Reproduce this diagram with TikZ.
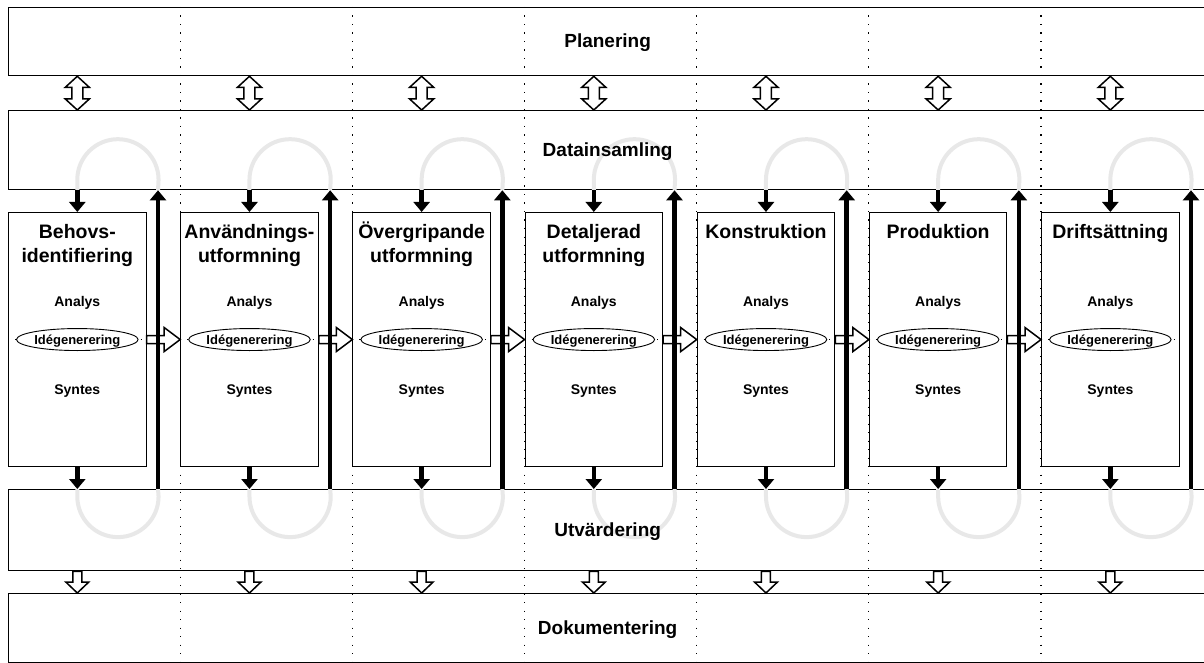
\documentclass[tikz,border=0pt]{standalone}
\usepackage{fontspec}
\setmainfont{Liberation Sans}
\usetikzlibrary{arrows.meta,shapes.geometric,calc}
\begin{document}
\begin{tikzpicture}[x=1pt,y=-1pt,
  band/.style={draw=black, line width=1.3pt, anchor=north west, inner sep=0pt, minimum width=1198pt},
  bandlabel/.style={inner sep=0pt, font=\fontsize{19}{23}\selectfont\bfseries, text height=13.6pt, text depth=1.5pt},
  stagebox/.style={draw=black, line width=1.1pt, fill=white, anchor=north west, inner sep=0pt,
    minimum width=137.5pt, minimum height=254pt},
  stagetitle/.style={anchor=base, align=center, inner sep=0pt, font=\fontsize{19.5}{24}\selectfont\bfseries},
  phase/.style={anchor=base, inner sep=0pt, font=\fontsize{14}{16}\selectfont\bfseries},
  idea/.style={ellipse, draw=black, line width=0.9pt, fill=white, minimum width=111pt, minimum height=22pt,
    inner sep=0pt, font=\fontsize{13}{15}\selectfont\bfseries, text height=9.3pt, text depth=0pt},
  griddots/.style={line width=1.2pt, dash pattern=on 1.2pt off 7.3pt},
  rowdots/.style={line width=1.2pt, dash pattern=on 1.2pt off 11.35pt},
  feedback/.style={draw=black!9, line width=4pt},
  flow/.style={line width=4.5pt, -{Triangle[width=16pt,length=10pt]}},
  hollow/.style={draw=black, fill=white, line width=1.5pt, line join=miter},
  hright/.style={hollow, to path={let \p1=(\tikztostart), \p2=(\tikztotarget) in
    (\x1,{\y1+4pt}) -- ({\x2-16pt},{\y1+4pt}) -- ({\x2-16pt},{\y1+12pt}) -- (\x2,\y1)
    -- ({\x2-16pt},{\y1-12pt}) -- ({\x2-16pt},{\y1-4pt}) -- (\x1,{\y1-4pt}) -- cycle}},
  hdown/.style={hollow, to path={let \p1=(\tikztostart), \p2=(\tikztotarget) in
    ({\x1-4.5pt},\y1) -- ({\x1-4.5pt},{\y2+11pt}) -- ({\x1-11.5pt},{\y2+11pt}) -- (\x1,\y2)
    -- ({\x1+11.5pt},{\y2+11pt}) -- ({\x1+4.5pt},{\y2+11pt}) -- ({\x1+4.5pt},\y1) -- cycle}},
  hboth/.style={hollow, to path={let \p1=(\tikztostart), \p2=(\tikztotarget) in
    (\x1,\y1) -- ({\x1+12pt},{\y1-11pt}) -- ({\x1+5.5pt},{\y1-11pt}) -- ({\x1+5.5pt},{\y2+11pt})
    -- ({\x1+12pt},{\y2+11pt}) -- (\x1,\y2) -- ({\x1-12pt},{\y2+11pt}) -- ({\x1-5.5pt},{\y2+11pt})
    -- ({\x1-5.5pt},{\y1-11pt}) -- ({\x1-12pt},{\y1-11pt}) -- cycle}},
]
\useasboundingbox[fill=white] (0,0) rectangle (1204,663);

% horizontal bands (outlines only, labels come later)
\node[band, minimum height=68pt] (plan) at (8,7) {};
\node[band, minimum height=79pt] (dat) at (8,110) {};
\node[band, minimum height=81pt] (utv) at (8,489) {};
\node[band, minimum height=69pt] (dok) at (8,593) {};

% stage boxes and the return-line positions
\foreach \i in {0,...,6}{
  \pgfmathsetmacro\L{8+172.17*\i}
  \pgfmathsetmacro\U{\L+150}
  \node[stagebox] (b\i) at (\L,212) {};
  \coordinate (u\i) at (\U,0);
}

% column separators
\foreach \i in {1,...,6}
  \draw[griddots] (b\i.north west |- plan.north) -- (b\i.north west |- dok.south);

% feedback loops
\foreach \i in {0,...,6}{
  \draw[feedback] (b\i.north |- dat.south) -- ++(0,-10.5)
    arc[start angle=180, end angle=0, radius=40.625pt] -- (u\i |- dat.south);
  \draw[feedback] (b\i.south |- utv.north) -- ++(0,7.5)
    arc[start angle=180, end angle=360, radius=40.625pt] -- (u\i |- utv.north);
}

% band labels
\node[bandlabel] (planlbl) at (plan.center) {Planering};
\node[bandlabel] (datlbl) at (dat.center) {Datainsamling};
\node[bandlabel] (utvlbl) at (utv.center) {Utvärdering};
\node[bandlabel] (doklbl) at (dok.center) {Dokumentering};

% stage contents
\foreach \i in {0,...,6}{
  \draw[rowdots] ([xshift=7pt]b\i.west) -- ([xshift=-5pt]b\i.east);
  \node[idea] (id\i) at (b\i.center) {Idégenerering};
  \node[phase] (an\i) at ($(b\i.north)+(0,94)$) {Analys};
  \node[phase] (sy\i) at ($(b\i.north)+(0,182)$) {Syntes};
}
\node[stagetitle] (t0) at ($(b0.north)+(0,50)$) {Behovs-\\identifiering};
\node[stagetitle] (t1) at ($(b1.north)+(0,50)$) {Användnings-\\utformning};
\node[stagetitle] (t2) at ($(b2.north)+(0,50)$) {Övergripande\\utformning};
\node[stagetitle] (t3) at ($(b3.north)+(0,50)$) {Detaljerad\\utformning};
\node[stagetitle] (t4) at ($(b4.north)+(0,26)$) {Konstruktion};
\node[stagetitle] (t5) at ($(b5.north)+(0,26)$) {Produktion};
\node[stagetitle] (t6) at ($(b6.north)+(0,26)$) {Driftsättning};

% hand-over between stages
\foreach \i [evaluate=\i as \j using int(\i+1)] in {0,...,5}
  \draw[hright] (b\i.east) to (b\j.west);

% vertical flows
\foreach \i in {0,...,6}{
  \draw[flow] (u\i |- utv.north) -- (u\i |- dat.south);
  \draw[flow] (b\i.north |- dat.south) -- (b\i.north);
  \draw[flow] (b\i.south) -- (b\i.south |- utv.north);
  \draw[hboth] (b\i.north |- plan.south) to (b\i.north |- dat.north);
  \draw[hdown] (b\i.south |- utv.south) to (b\i.south |- dok.north);
}
\end{tikzpicture}
\end{document}
